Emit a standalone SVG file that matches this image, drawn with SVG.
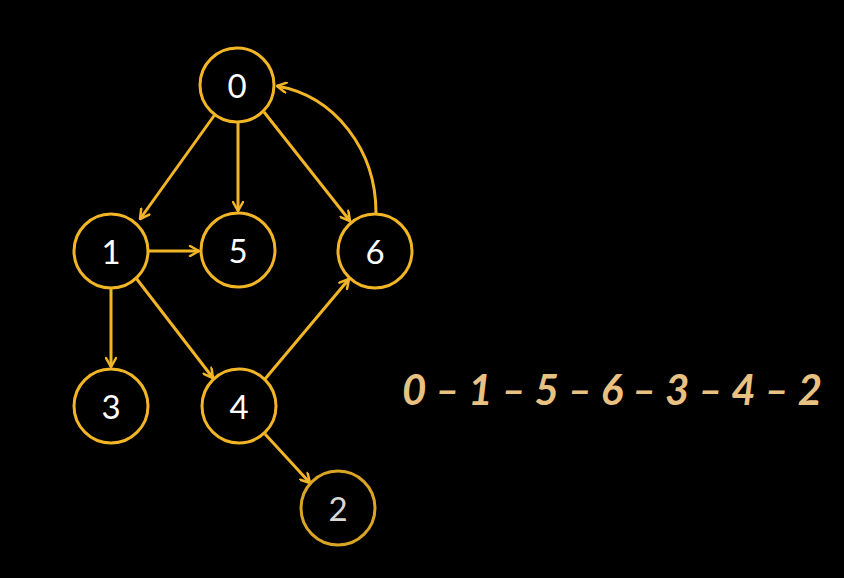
<svg xmlns="http://www.w3.org/2000/svg" width="844" height="578" viewBox="0 0 844 578">
<style>
.n circle{fill:#000;stroke:#F2B526;stroke-width:3}
.n text{font-family:Lato,"Open Sans",sans-serif;font-size:33px;fill:#fff;text-anchor:middle;dominant-baseline:central}
.e{fill:none;stroke:#F2B526;stroke-width:3;marker-end:url(#a)}
</style>
<defs>
<marker id="a" viewBox="0 0 12 12" refX="11" refY="6" markerWidth="12" markerHeight="12" markerUnits="userSpaceOnUse" orient="auto">
<path d="M2,1 L11,6 L2,11" fill="none" stroke="#F2B526" stroke-width="2.5" stroke-linecap="round" stroke-linejoin="round"/>
</marker>
</defs>
<rect width="844" height="578" fill="#000"/>
<g id="edges">
<path class="e" d="M216,113 L140,219"/>
<path class="e" d="M238,122 L238,211"/>
<path class="e" d="M264,112 L350,221"/>
<path class="e" d="M376,213 C376,150 335,96 277,86"/>
<path class="e" d="M149,251 L199,251"/>
<path class="e" d="M111,289 L111,367"/>
<path class="e" d="M136,278 L213,378"/>
<path class="e" d="M265,379 L349,279"/>
<path class="e" d="M265,434 L310,483"/>
</g>
<g id="n0" class="n"><circle cx="237" cy="85" r="37"/><text x="237" y="85">0</text></g>
<g id="n1" class="n"><circle cx="111" cy="251" r="37"/><text x="111" y="251">1</text></g>
<g id="n5" class="n"><circle cx="238" cy="250" r="37"/><text x="238" y="250">5</text></g>
<g id="n6" class="n"><circle cx="375" cy="251" r="37"/><text x="375" y="251">6</text></g>
<g id="n3" class="n"><circle cx="111" cy="406" r="37"/><text x="111" y="406">3</text></g>
<g id="n4" class="n"><circle cx="239" cy="406" r="37"/><text x="239" y="406">4</text></g>
<g id="n2" class="n"><circle cx="338" cy="508" r="37" style="stroke:#D9A524"/><text x="338" y="508" style="fill:#d8d8d8">2</text></g>
<text x="402" y="405" font-family="Lato,'Open Sans',sans-serif" font-size="42" font-weight="bold" font-style="italic" fill="#E9C283" textLength="420" lengthAdjust="spacing" xml:space="preserve">0 – 1 – 5 – 6 – 3 – 4 – 2</text>
</svg>
